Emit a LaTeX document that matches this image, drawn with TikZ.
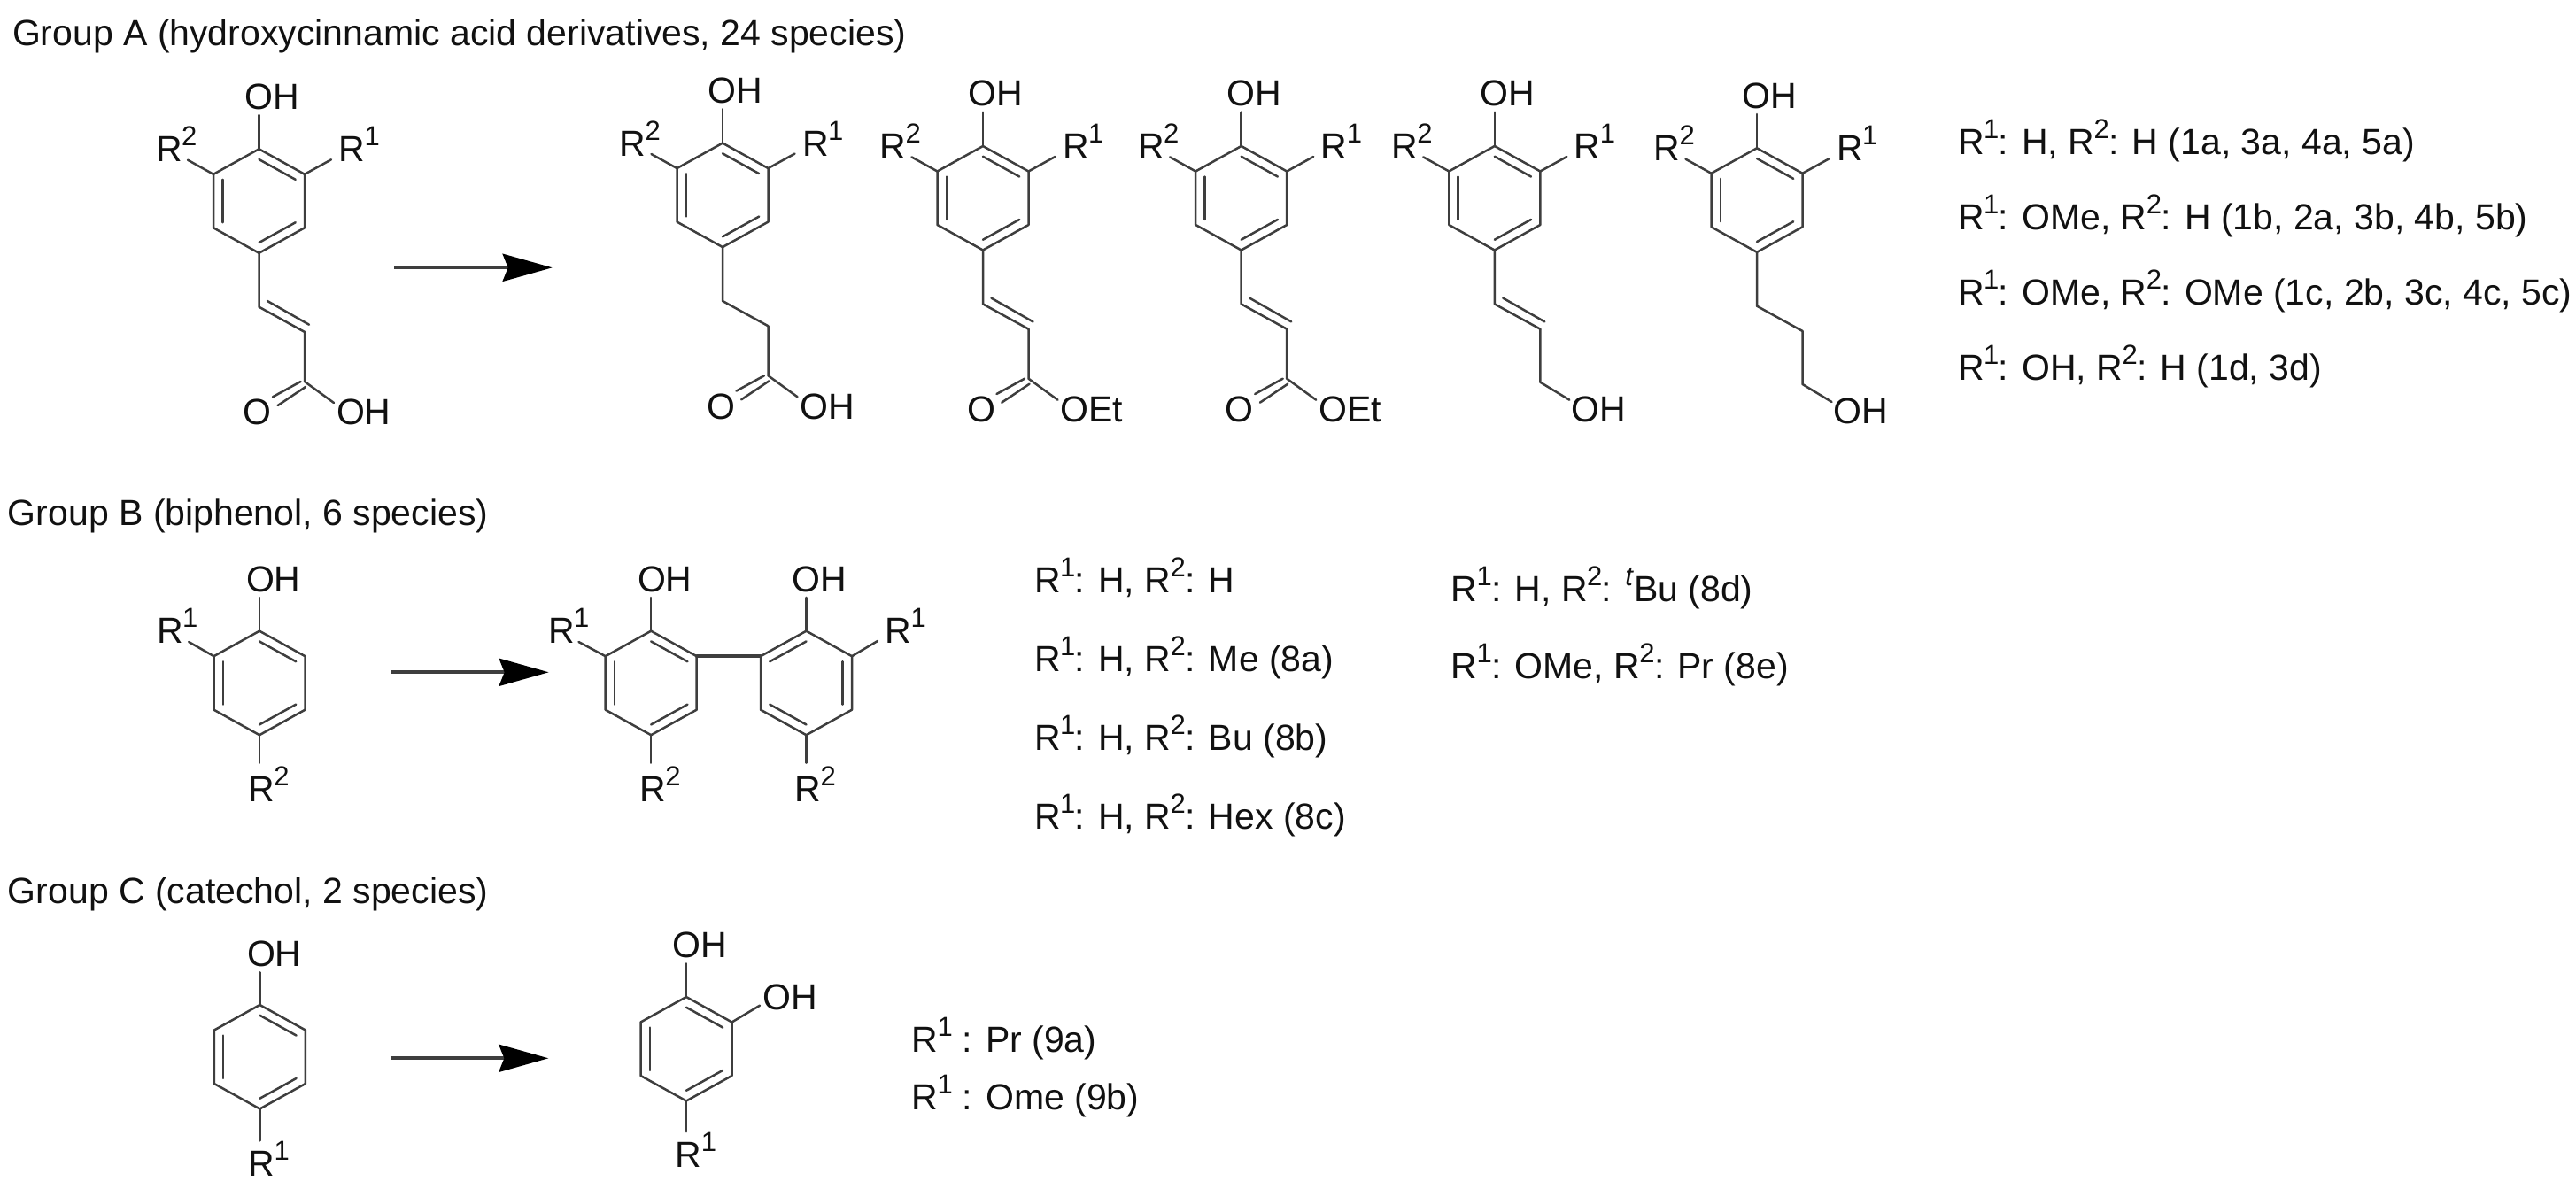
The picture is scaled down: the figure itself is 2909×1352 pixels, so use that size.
\documentclass[tikz,border=0pt]{standalone}
\usepackage{fontspec}
\setmainfont{Liberation Sans}
\usetikzlibrary{arrows.meta,calc}
\definecolor{ink}{HTML}{111111}
\definecolor{bondc}{HTML}{3E3E3E}
\newcommand{\sups}[1]{\raisebox{9pt}{\fontsize{15.5}{16}\selectfont #1}}
\newcommand{\rr}[1]{R\kern-0.3pt\relax\sups{#1}\kern-0.3pt\relax}
\tikzset{
  bond/.style={draw=bondc,line width=1.25pt,line cap=round,line join=round},
  rxn/.style={draw=bondc,line width=2pt,-{Stealth[length=28pt,width=15.5pt,inset=3pt,color=black]}},
  lbl/.style={anchor=base west,inner sep=0pt,outer sep=0pt,text=ink,font=\fontsize{20.5}{24}\selectfont},
}
% ring: prefix, x of top vertex, y of top vertex
\newcommand{\ringat}[3]{%
  \coordinate (#1t) at (#2,#3);
  \coordinate (#1ur) at (#2+51.5,#3+28.5);
  \coordinate (#1lr) at (#2+51.5,#3+89);
  \coordinate (#1b) at (#2,#3+117.5);
  \coordinate (#1ll) at (#2-51.5,#3+89);
  \coordinate (#1ul) at (#2-51.5,#3+28.5);
  \coordinate (#1c) at (#2,#3+58.75);
  \draw[bond] (#1t)--(#1ur)--(#1lr)--(#1b)--(#1ll)--(#1ul)--cycle;}
\newcommand{\dbl}[3]{\draw[bond] ($(#1c)!.8!(#1#2)$)--($(#1c)!.8!(#1#3)$);}
% hydroxyphenyl head of group A molecules
\newcommand{\headA}[1]{%
  \ringat{#1}{292.5}{168.3}
  \dbl{#1}{t}{ur}\dbl{#1}{ul}{ll}\dbl{#1}{lr}{b}
  \coordinate (#1oe) at (292.5,130);
  \coordinate (#1re) at (212,180.7);
  \coordinate (#1qe) at (374,180.3);
  \draw[bond] (#1t)--(#1oe);
  \draw[bond] (#1ul)--(#1re);
  \draw[bond] (#1ur)--(#1qe);
  \node[lbl] (#1oh) at (276.4,123.3) {OH};
  \node[lbl] (#1r2) at (176,183) {\rr{2}};
  \node[lbl] (#1r1) at (382.6,183) {\rr{1}};
  \coordinate (#1c1) at (292.5,346.7);
  \coordinate (#1c2) at (344,375);
  \draw[bond] (#1b)--(#1c1)--(#1c2);}
\newcommand{\ene}[1]{%
  \coordinate (#1d1) at (302,340);
  \coordinate (#1d2) at (349,366.7);
  \draw[bond] (#1d1)--(#1d2);}
\newcommand{\carbonyl}[2]{%
  \coordinate (#1c3) at (344,431);
  \coordinate (#1o1) at (339.5,431);
  \coordinate (#1o2) at (308,448.3);
  \coordinate (#1o3) at (345,437);
  \coordinate (#1o4) at (313.7,458);
  \coordinate (#1o5) at (377,455);
  \draw[bond] (#1c2)--(#1c3)--(#1o5);
  \draw[bond] (#1o1)--(#1o2);
  \draw[bond] (#1o3)--(#1o4);
  \node[lbl] (#1o) at (274.7,480) {O};
  \node[lbl] (#1x) at (380,480) {#2};}
\newcommand{\alcohol}[1]{%
  \coordinate (#1c3) at (344,435);
  \coordinate (#1o5) at (377,455);
  \draw[bond] (#1c2)--(#1c3)--(#1o5);
  \node[lbl] (#1x) at (379.4,480) {OH};}
\begin{document}
\begin{tikzpicture}[x=0.5pt,y=-0.5pt]
\path[use as bounding box,fill=white] (0,0) rectangle (2909,1352);

% titles
\node[lbl] (ta) at (14,51.7) {Group A (hydroxycinnamic acid derivatives, 24 species)};
\node[lbl] (tb) at (9,594) {Group B (biphenol, 6 species)};
\node[lbl] (tc) at (9,1020) {Group C (catechol, 2 species)};

% Group A
\begin{scope}[shift={(0,0)}]
  \headA{a}\ene{a}\carbonyl{a}{OH}
\end{scope}
\begin{scope}[shift={(523.5,-6.7)}]
  \headA{b}\carbonyl{b}{OH}
\end{scope}
\begin{scope}[shift={(817.5,-3.3)}]
  \headA{d}\ene{d}\carbonyl{d}{OEt}
\end{scope}
\begin{scope}[shift={(1109.2,-3.3)}]
  \headA{e}\ene{e}\carbonyl{e}{OEt}
\end{scope}
\begin{scope}[shift={(1395.3,-3.3)}]
  \headA{f}\ene{f}\alcohol{f}
\end{scope}
\begin{scope}[shift={(1691.5,-1)}]
  \headA{g}\alcohol{g}
\end{scope}
\coordinate (ar1s) at (444.6,302.3);
\coordinate (ar1e) at (623.7,302.3);
\draw[rxn] (ar1s)--(ar1e);

% Group A legend
\node[lbl] (l1) at (2211,175) {\rr{1}: H, \rr{2}: H (1a, 3a, 4a, 5a)};
\node[lbl] (l2) at (2211,260) {\rr{1}: OMe, \rr{2}: H (1b, 2a, 3b, 4b, 5b)};
\node[lbl] (l3) at (2211,345) {\rr{1}: OMe, \rr{2}: OMe (1c, 2b, 3c, 4c, 5c)};
\node[lbl] (l4) at (2211,429.3) {\rr{1}: OH, \rr{2}: H (1d, 3d)};

% Group B
\ringat{h}{293}{712.7}
\dbl{h}{t}{ur}\dbl{h}{ul}{ll}\dbl{h}{lr}{b}
\coordinate (hoe) at (293,675);
\coordinate (hre) at (213.2,725);
\coordinate (hqe) at (293,861.7);
\draw[bond] (ht)--(hoe);
\draw[bond] (hul)--(hre);
\draw[bond] (hb)--(hqe);
\node[lbl] (hoh) at (278,668.3) {OH};
\node[lbl] (hr1) at (177,726.7) {\rr{1}};
\node[lbl] (hr2) at (280.4,905) {\rr{2}};

\coordinate (ar2s) at (441.7,759.3);
\coordinate (ar2e) at (619.7,759.3);
\draw[rxn] (ar2s)--(ar2e);

\ringat{j}{735.2}{712.7}
\dbl{j}{t}{ur}\dbl{j}{ul}{ll}\dbl{j}{lr}{b}
\coordinate (joe) at (735.2,675);
\coordinate (jre) at (653.5,725);
\coordinate (jqe) at (735.2,861.7);
\draw[bond] (jt)--(joe);
\draw[bond] (jul)--(jre);
\draw[bond] (jb)--(jqe);
\node[lbl] (joh) at (720,668.3) {OH};
\node[lbl] (jr1) at (619,726.7) {\rr{1}};
\node[lbl] (jr2) at (722.4,905) {\rr{2}};

\ringat{k}{910.5}{712.7}
\dbl{k}{t}{ul}\dbl{k}{ur}{lr}\dbl{k}{ll}{b}
\coordinate (koe) at (910.5,675);
\coordinate (kre) at (991,724);
\coordinate (kqe) at (910.5,861.7);
\draw[bond] (kt)--(koe);
\draw[bond] (kur)--(kre);
\draw[bond] (kb)--(kqe);
\node[lbl] (koh) at (894.6,668.3) {OH};
\node[lbl] (kr1) at (999.7,726.7) {\rr{1}};
\node[lbl] (kr2) at (897.5,905) {\rr{2}};
\draw[bond,line width=1.8pt] (jur)--(kul);

% Group B legend
\node[lbl] (m1) at (1168,669.3) {\rr{1}: H, \rr{2}: H};
\node[lbl] (m2) at (1168,758.3) {\rr{1}: H, \rr{2}: Me (8a)};
\node[lbl] (m3) at (1168,847.3) {\rr{1}: H, \rr{2}: Bu (8b)};
\node[lbl] (m4) at (1168,936) {\rr{1}: H, \rr{2}: Hex (8c)};
\node[lbl] (m5) at (1638.5,679.3) {\rr{1}: H, \rr{2}: \sups{\textit{t}}Bu (8d)};
\node[lbl] (m6) at (1638.5,766.7) {\rr{1}: OMe, \rr{2}: Pr (8e)};

% Group C
\ringat{p}{293.4}{1135}
\dbl{p}{t}{ur}\dbl{p}{ul}{ll}\dbl{p}{lr}{b}
\coordinate (poe) at (293.4,1098.3);
\coordinate (pqe) at (293.4,1288.3);
\draw[bond] (pt)--(poe);
\draw[bond] (pb)--(pqe);
\node[lbl] (poh) at (279,1091.7) {OH};
\node[lbl] (pr1) at (280.6,1328.3) {\rr{1}};

\coordinate (ar3s) at (440.8,1195.3);
\coordinate (ar3e) at (619.4,1195.3);
\draw[rxn] (ar3s)--(ar3e);

\ringat{q}{775}{1126}
\dbl{q}{t}{ur}\dbl{q}{ul}{ll}\dbl{q}{lr}{b}
\coordinate (qoe) at (775,1088.3);
\coordinate (qpe) at (858,1135.7);
\coordinate (qqe) at (775,1278.3);
\draw[bond] (qt)--(qoe);
\draw[bond] (qur)--(qpe);
\draw[bond] (qb)--(qqe);
\node[lbl] (qoh) at (759.7,1081.7) {OH};
\node[lbl] (qoh2) at (861.7,1140) {OH};
\node[lbl] (qr1) at (762.8,1318.3) {\rr{1}};

% Group C legend
\node[lbl] (n1) at (1029.5,1188.3) {\rr{1} : Pr (9a)};
\node[lbl] (n2) at (1029.5,1253.3) {\rr{1} : Ome (9b)};
\end{tikzpicture}
\end{document}
